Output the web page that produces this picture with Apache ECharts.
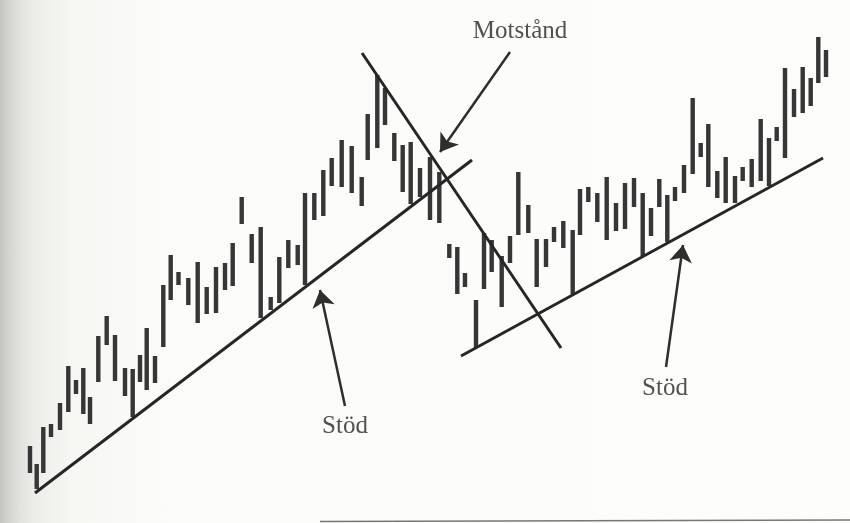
<!DOCTYPE html>
<html>
<head>
<meta charset="utf-8">
<script src="https://cdn.jsdelivr.net/npm/echarts@6/dist/echarts.min.js"></script>
<style>
html,body{margin:0;padding:0;}
#c{width:850px;height:523px;background:linear-gradient(to right,#c4c4c1 0px,#d2d2cf 8px,#e2e2df 20px,#ededea 35px,#f6f6f3 70px,#fbfbf9 160px,#fdfdfc 100%);}
</style>
</head>
<body>
<div id="c"></div>
<script>
// Bar positions (time axis) and high/low prices
const positions = [30,36.7,43.3,51,60,68.3,76,83.3,90,98.3,106.7,115,125,132.7,140,146.7,155,163.3,170.7,178.5,188.3,197.7,206.7,216,225,232.7,241.7,251.7,260.7,270.7,279.3,288.3,297.7,305,314.3,323.3,331.7,341.7,351.7,361.7,367.7,377.3,385,394.3,402.7,410.7,420,430,439.3,
  449.3,457.3,465,476,484,491.7,501.7,510,518.3,528.3,536.7,546,554,563.3,572.7,580,588.3,597.3,606.7,616,625,634,642.7,651,659.3,667.3,675,684,692.7,700.7,708.3,717.3,725.7,735,742.7,751.7,760.7,769,776.7,785,794,802.7,810.7,818.3,826];
const highs = [77,59,96,99,120,157,143,155,126,187,207,188,155,154,168,195,167,238,268,251,245,261,236,256,260,280,326,289,296,226,266,283,278,330,330,353,365,383,377,346,409,448,435,390,378,381,355,366,351,
  279,276,250,223,290,283,267,287,351,318,284,284,296,302,293,334,336,330,346,320,340,345,330,315,344,328,336,358,425,380,399,352,366,347,356,364,404,385,396,455,434,456,445,486,473];
const lows = [50,34,50,86,93,111,129,109,99,141,178,142,127,106,141,133,140,176,223,238,218,200,209,210,233,237,299,260,205,213,220,255,258,238,303,307,337,336,330,317,363,375,398,362,331,319,326,303,300,
  265,229,236,176,234,251,216,260,288,290,236,256,281,275,229,288,321,301,283,292,294,316,267,287,316,281,322,330,349,366,336,325,320,320,342,336,342,337,382,365,406,410,417,440,446];

// Trend lines [x, price]
const supportLeft = [[35,30],[472,363]];
const resistance = [[362,470],[561,175]];
const supportRight = [[461,167],[823,365]];

// Annotation arrows: tail -> head
const arrows = [
  [[510,471],[440,371]],
  [[345,117],[320,233]],
  [[666,156],[683,278]]
];
const labels = [
  {name:'Motstånd', value:[520,492]},
  {name:'Stöd', value:[345,97]},
  {name:'Stöd', value:[665,135]}
];

const chart = echarts.init(document.getElementById('c'), null, {renderer:'canvas'});
const barData = positions.map((p,i)=>[p, lows[i], highs[i]]);
const lineStyle = {color:'#262626', width:3};

chart.setOption({
  backgroundColor:'transparent',
  animation:false,
  grid:{left:0,right:0,top:0,bottom:0},
  xAxis:{type:'value',min:0,max:850,show:false},
  yAxis:{type:'value',min:0,max:523,show:false},
  series:[
    {
      type:'custom',
      data:barData,
      encode:{x:0,y:[1,2]},
      renderItem:function(params, api){
        const x = api.value(0);
        const lo = api.coord([x, api.value(1)]);
        const hi = api.coord([x, api.value(2)]);
        return {
          type:'rect',
          shape:{x:lo[0]-2.2, y:hi[1], width:4.4, height:lo[1]-hi[1]},
          style:{fill:'#363636'}
        };
      }
    },
    {type:'line', data:supportLeft, symbol:'none', lineStyle:lineStyle, silent:true},
    {type:'line', data:resistance, symbol:'none', lineStyle:lineStyle, silent:true},
    {type:'line', data:supportRight, symbol:'none', lineStyle:lineStyle, silent:true},
    {
      type:'lines',
      coordinateSystem:'cartesian2d',
      data:arrows.map(a=>({coords:a})),
      symbol:['none','arrow'],
      symbolSize:[9,17],
      lineStyle:{color:'#2e2e2e',width:2.5,opacity:1,curveness:0},
      silent:true
    },
    {
      type:'scatter',
      data:labels,
      symbolSize:0,
      label:{
        show:true,
        position:'inside',
        formatter:'{b}',
        fontFamily:'"Liberation Serif", "DejaVu Serif", serif',
        fontSize:25,
        color:'#262626'
      },
      silent:true
    }
  ],
  graphic:[
    {type:'line', shape:{x1:320,y1:521.5,x2:850,y2:520}, style:{stroke:'#555',lineWidth:1.5,opacity:0.8}}
  ]
});
</script>
</body>
</html>
